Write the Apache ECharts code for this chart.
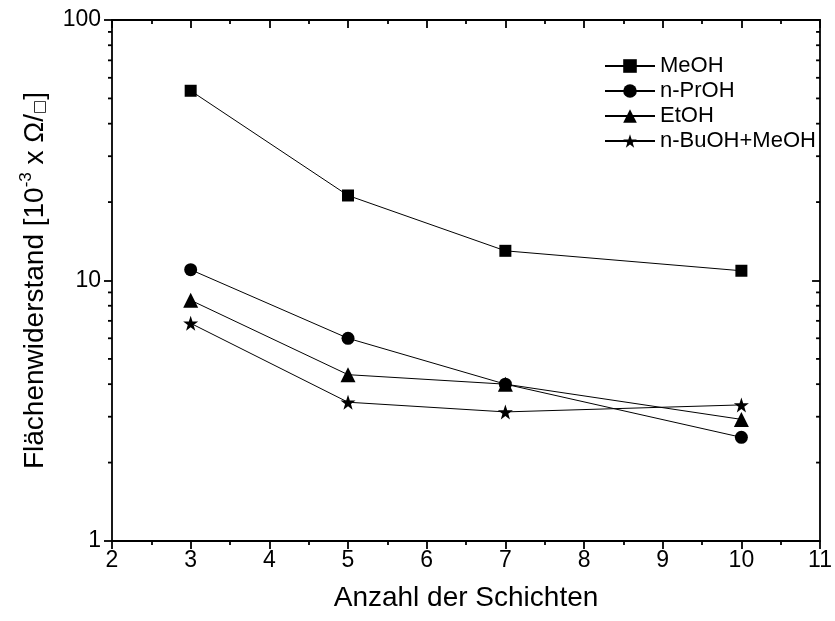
<!DOCTYPE html>
<html>
<head>
<meta charset="utf-8">
<script src="https://cdn.jsdelivr.net/npm/echarts@6/dist/echarts.min.js"></script>
<style>
  html, body { margin: 0; padding: 0; background: #fff; }
  #chart { width: 835px; height: 621px; }
</style>
</head>
<body>
<div id="chart"></div>
<script>
// Number of layers (x) and sheet resistance values (y, 10^-3 Ohm/sq)
const layers = [3, 5, 7, 10];
const meoh = [53.5, 21.2, 13.0, 10.9];
const nProh = [11.0, 6.0, 4.0, 2.5];
const etoh = [8.4, 4.35, 4.0, 2.93];
const nBuohMeoh = [6.85, 3.41, 3.13, 3.33];
const seriesNames = ['MeOH', 'n-PrOH', 'EtOH', 'n-BuOH+MeOH'];

// Axis ranges and minor tick positions on the log axis
const xRange = [2, 11];
const yRange = [1, 100];
const yMinorTicks = [2, 3, 4, 5, 6, 7, 8, 9, 20, 30, 40, 50, 60, 70, 80, 90];

const FONT = 'Liberation Sans, Arial, Helvetica, sans-serif';
const STAR = 'path://M50,0 L61.8,35.1 L98.1,35.1 L68.8,56.8 L79.4,91.4 L50,70 L20.6,91.4 L31.2,56.8 L1.9,35.1 L38.2,35.1 Z';

function pairs(ys) { return layers.map((x, i) => [x, ys[i]]); }

function lineSeries(name, ys, symbol, size) {
  return {
    name: name,
    type: 'line',
    data: pairs(ys),
    symbol: symbol,
    symbolSize: size,
    showSymbol: true,
    lineStyle: { color: '#000', width: 1 },
    itemStyle: { color: '#000', borderWidth: 0 },
    emphasis: { disabled: true },
    animation: false,
    z: 3
  };
}

const axisLine = { show: true, lineStyle: { color: '#000', width: 1.8 } };

const chart = echarts.init(document.getElementById('chart'), null, { renderer: 'canvas' });

chart.setOption({
  backgroundColor: '#fff',
  animation: false,
  grid: { left: 112, right: 8, top: 20, bottom: 80 },
  legend: {
    data: seriesNames,
    orient: 'vertical',
    left: 599,
    top: 50,
    itemWidth: 50,
    itemHeight: 17,
    itemGap: 3,
    textStyle: { fontFamily: FONT, fontSize: 22, color: '#000' },
    inactiveColor: '#000',
    selectedMode: false
  },
  xAxis: [
    {
      type: 'value', position: 'bottom', min: xRange[0], max: xRange[1], interval: 1,
      axisLine: axisLine,
      axisTick: { show: true, inside: false, length: 8, lineStyle: { color: '#000', width: 1.8 } },
      minorTick: { show: true, splitNumber: 2, length: 4, lineStyle: { color: '#000', width: 1.8 } },
      splitLine: { show: false },
      axisLabel: { fontFamily: FONT, fontSize: 23, color: '#000', margin: 8 },
      name: 'Anzahl der Schichten',
      nameLocation: 'middle',
      nameGap: 43,
      nameTextStyle: { fontFamily: FONT, fontSize: 28, color: '#000' }
    },
    {
      type: 'value', position: 'top', min: xRange[0], max: xRange[1], interval: 1,
      axisLine: axisLine,
      axisTick: { show: true, inside: true, length: 8, lineStyle: { color: '#000', width: 1.8 } },
      minorTick: { show: true, splitNumber: 2, length: 4, lineStyle: { color: '#000', width: 1.8 } },
      splitLine: { show: false },
      axisLabel: { show: false }
    }
  ],
  yAxis: [
    {
      type: 'log', logBase: 10, position: 'left', min: yRange[0], max: yRange[1],
      axisLine: axisLine,
      axisTick: { show: true, inside: false, length: 8, lineStyle: { color: '#000', width: 1.8 } },
      splitLine: { show: false },
      axisLabel: { fontFamily: FONT, fontSize: 23, color: '#000', margin: 11 },
      name: 'Flächenwiderstand [10{sup|-3} x Ω/{sq|□}]',
      nameLocation: 'middle',
      nameRotate: 90,
      nameGap: 60,
      nameTextStyle: {
        fontFamily: FONT, fontSize: 28, color: '#000',
        rich: {
          sup: { fontFamily: FONT, fontSize: 17, color: '#000', padding: [0, 0, 17, 0] },
          sq: { fontFamily: 'DejaVu Sans, sans-serif', fontSize: 15, color: '#000', padding: [10, 0, 0, 0] }
        }
      }
    },
    {
      type: 'log', logBase: 10, position: 'right', min: yRange[0], max: yRange[1],
      axisLine: axisLine,
      axisTick: { show: true, inside: true, length: 8, lineStyle: { color: '#000', width: 1.8 } },
      splitLine: { show: false },
      axisLabel: { show: false }
    }
  ],
  series: [
    lineSeries(seriesNames[0], meoh, 'rect', 12),
    lineSeries(seriesNames[1], nProh, 'circle', 13),
    lineSeries(seriesNames[2], etoh, 'triangle', 15),
    lineSeries(seriesNames[3], nBuohMeoh, STAR, 15),
    {
      // minor ticks of the log axes: outward on the left, inward on the right
      type: 'custom',
      silent: true,
      clip: false,
      data: yMinorTicks.map(v => [xRange[0], v]),
      renderItem: function (params, api) {
        const v = api.value(1);
        const l = api.coord([xRange[0], v]);
        const r = api.coord([xRange[1], v]);
        const style = { stroke: '#000', lineWidth: 1.8 };
        return {
          type: 'group',
          children: [
            { type: 'line', shape: { x1: l[0] - 4, y1: l[1], x2: l[0], y2: l[1] }, style: style },
            { type: 'line', shape: { x1: r[0] - 4, y1: r[1], x2: r[0], y2: r[1] }, style: style }
          ]
        };
      },
      z: 4
    }
  ]
});
</script>
</body>
</html>
